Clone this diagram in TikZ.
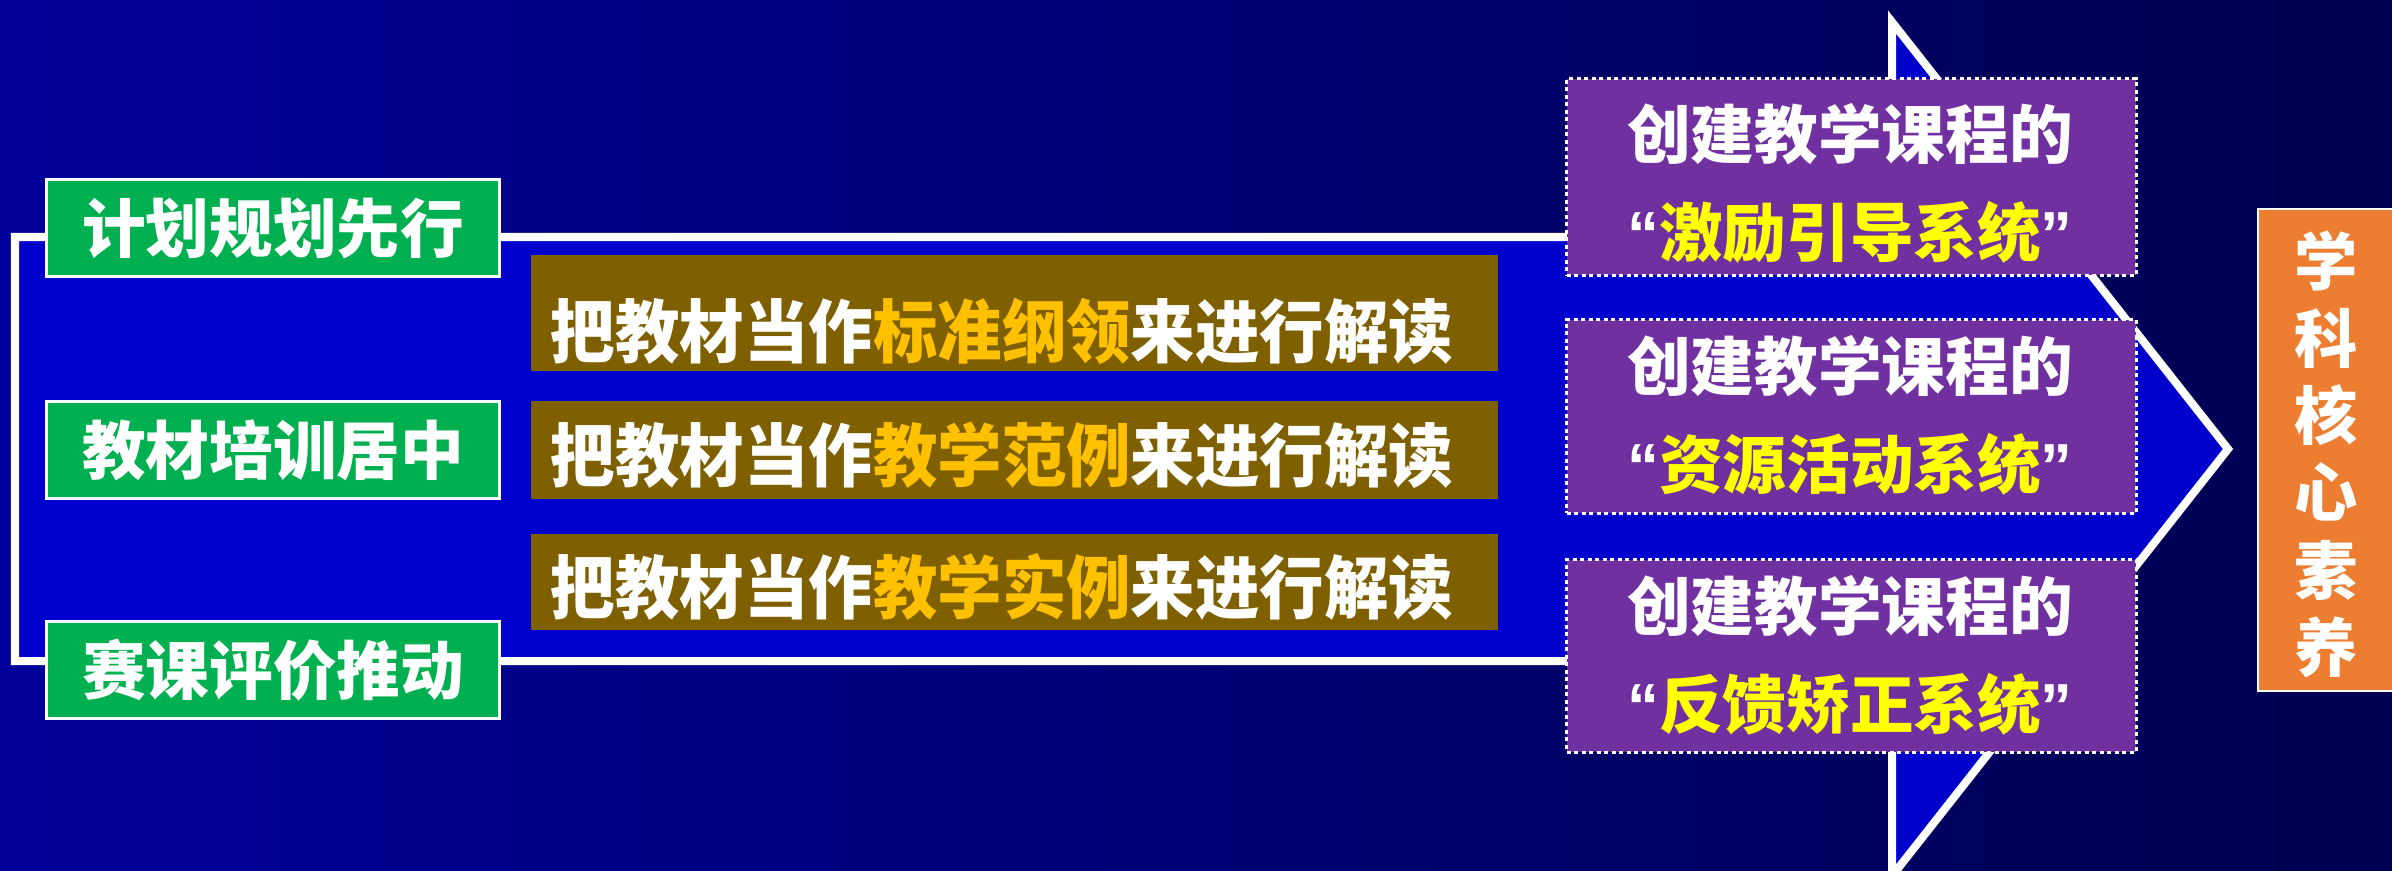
\documentclass[tikz,border=0pt]{standalone}
\usepackage{fontspec}
\setmainfont{Noto Sans CJK SC}
\newfontfamily\qfont{Liberation Sans}
\definecolor{bgL}{RGB}{0,0,153}
\definecolor{bgR}{RGB}{0,0,80}
\definecolor{arrowblue}{RGB}{0,0,204}
\definecolor{grn}{RGB}{0,176,80}
\definecolor{brn}{RGB}{127,96,0}
\definecolor{gold}{RGB}{255,192,0}
\definecolor{purp}{RGB}{112,48,160}
\definecolor{yel}{RGB}{255,255,0}
\definecolor{orng}{RGB}{237,125,49}
\newcommand{\narrowtext}[1]{\scalebox{0.935}[1]{#1}}
\begin{document}
\begin{tikzpicture}[x=0.01cm,y=-0.01cm,
  bigarrow/.style={draw=white, line width=0.08cm, fill=arrowblue, line join=miter},
  greenbox/.style={draw=white, line width=0.03cm, fill=grn, minimum width=4.52cm, minimum height=0.96cm, inner sep=0pt, text=white, font=\fontsize{18.1pt}{20pt}\selectfont\bfseries},
  brownbox/.style={fill=brn, minimum width=9.67cm, inner sep=0pt},
  btext/.style={text=white, inner sep=0pt, font=\fontsize{19.6pt}{22pt}\selectfont\bfseries},
  purplebox/.style={draw=white, line width=0.03cm, dash pattern=on 0.04cm off 0.035cm, fill=purp, minimum width=5.69cm, inner sep=0pt},
  ptext/.style={text=white, inner sep=0pt, align=center, font=\fontsize{18.1pt}{27.9pt}\selectfont\bfseries},
  orangebox/.style={draw=white, line width=0.015cm, fill=orng, minimum width=1.42cm, minimum height=4.82cm, inner sep=0pt},
  otext/.style={text=white, inner sep=0pt, align=center, font=\fontsize{18pt}{21.97pt}\selectfont\bfseries}
]
\useasboundingbox (0,0) rectangle (2392,870);
\shade[left color=bgL, right color=bgR] (0,0) rectangle (2392,870);

% big arrow
\draw[bigarrow] (15,237) -- (1892,237) -- (1892,22) -- (2228,449) -- (1892,876) -- (1892,661) -- (15,661) -- cycle;

% green boxes
\node[greenbox] (g1) at (273,228) {计划规划先行};
\node[greenbox] (g2) at (273,450) {教材培训居中};
\node[greenbox] (g3) at (273,670) {赛课评价推动};

% brown boxes
\node[brownbox, minimum height=1.16cm] (b1) at (1014.5,313) {};
\node[brownbox, minimum height=0.98cm] (b2) at (1014.5,450) {};
\node[brownbox, minimum height=0.96cm] (b3) at (1014.5,582) {};
\node[btext] (bt1) at (1002,331) {\narrowtext{把教材当作\textcolor{gold}{标准纲领}来进行解读}};
\node[btext] (bt2) at (1002,455) {\narrowtext{把教材当作\textcolor{gold}{教学范例}来进行解读}};
\node[btext] (bt3) at (1002,587) {\narrowtext{把教材当作\textcolor{gold}{教学实例}来进行解读}};

% purple boxes
\node[purplebox, minimum height=1.96cm] (p1) at (1851.5,177) {};
\node[purplebox, minimum height=1.93cm] (p2) at (1851.5,416.5) {};
\node[purplebox, minimum height=1.92cm] (p3) at (1851.5,656) {};
\node[ptext] (pt1) at (1850,183) {创建教学课程的\\{\qfont “}\textcolor{yel}{激励引导系统}{\qfont ”}};
\node[ptext] (pt2) at (1850,415.5) {创建教学课程的\\{\qfont “}\textcolor{yel}{资源活动系统}{\qfont ”}};
\node[ptext] (pt3) at (1850,655.5) {创建教学课程的\\{\qfont “}\textcolor{yel}{反馈矫正系统}{\qfont ”}};

% orange box
\node[orangebox] (o) at (2329,450) {};
\node[otext] (ot) at (2326,454) {学\\科\\核\\心\\素\\养};
\end{tikzpicture}
\end{document}
